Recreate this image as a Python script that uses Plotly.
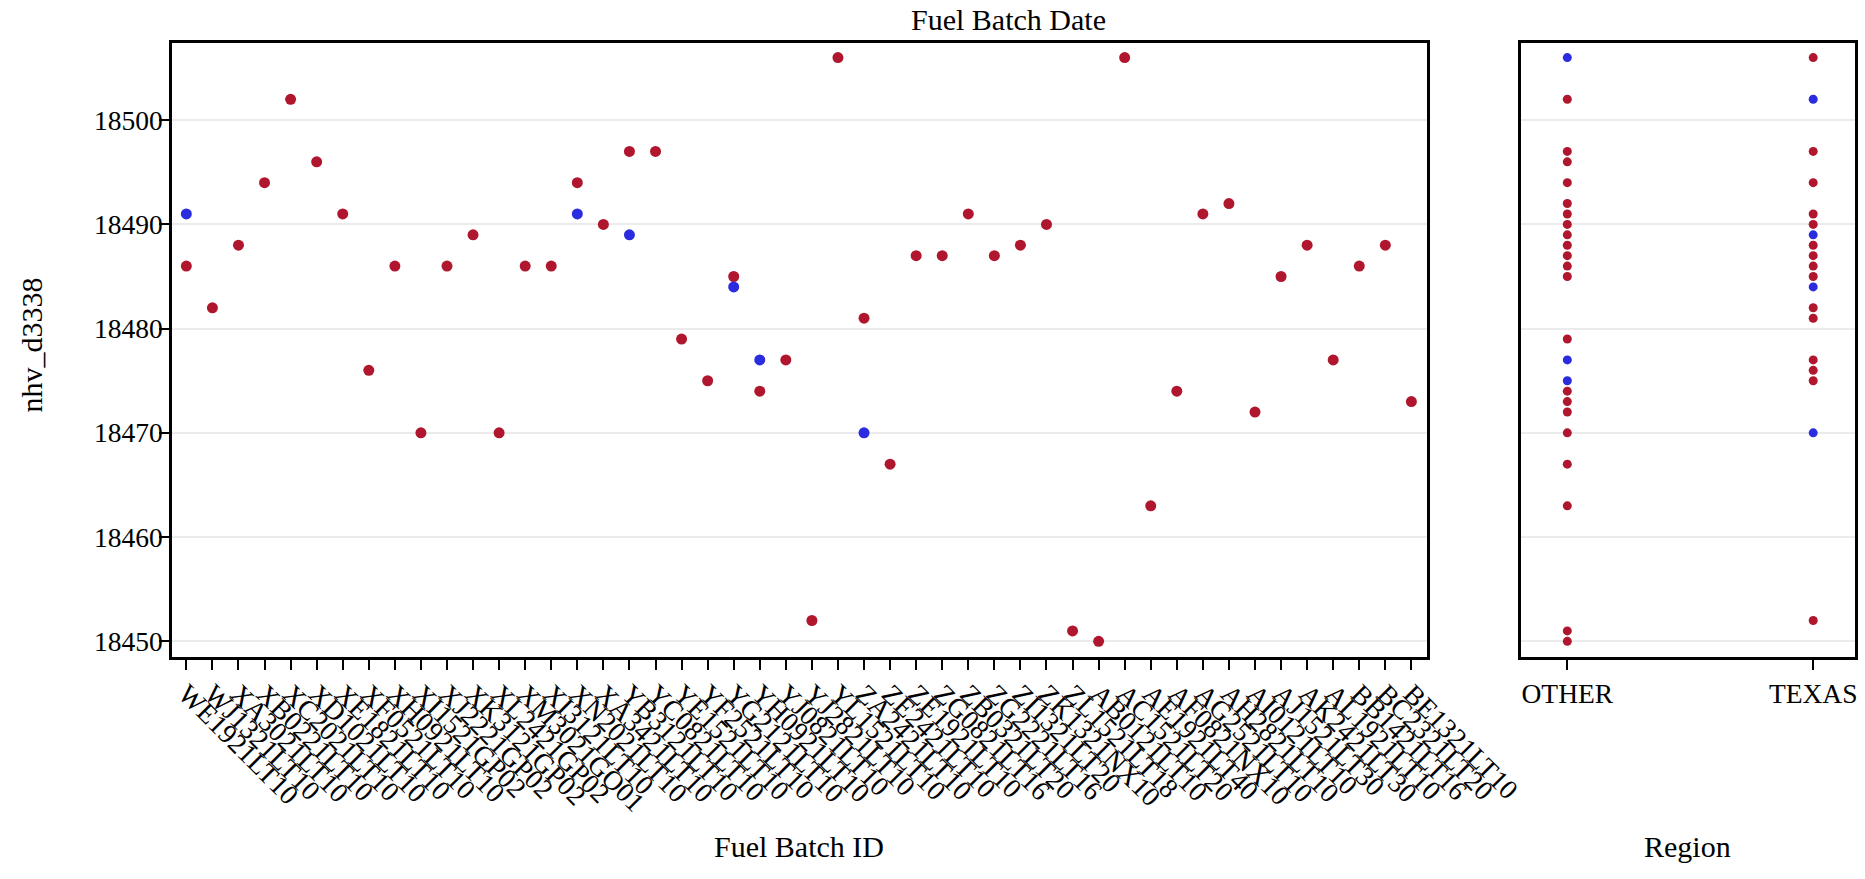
import plotly.graph_objects as go

# ---------------- data ----------------
batch_ids = [
    "WE1921LT10", "WJ1321LT10", "XA3021LT10", "XB0221LT10", "XC2021LT10", "XD1021LT10",
    "XE1821LT10", "XF0521LT10", "XH0921LT10", "XI1521GP02", "XJ2221GP02", "XK3121GP02",
    "XL2421GP02", "XM3021GO01", "XI3121LT10", "XN2021LT10", "XA3421LT10", "YB3121LT10",
    "YC0821LT10", "YE1521LT10", "YF2521LT10", "YG2121LT10", "YH0921LT10", "YJ0821LT10",
    "YJ2821LT10", "YL1521LT10", "ZA2421LT10", "ZE2421LT10", "ZE1921LT10", "ZG0821LT16",
    "ZB0321LT20", "ZG2221LT16", "ZI1321LT20", "ZK1321NX10", "ZL1521LT18", "AB0121LT10",
    "AC1521LT20", "AE1921LT40", "AF0821NX10", "AG2521LT10", "AH2821LT10", "AI0121LT10",
    "AJ1521LT30", "AK2421LT30", "AL1921LT10", "BB1421LT16", "BC2321LT20", "BE1321LT10",
]
nhv_red = [
    18486, 18482, 18488, 18494, 18502, 18496, 18491, 18476, 18486, 18470, 18486, 18489,
    18470, 18486, 18486, 18494, 18490, 18497, 18497, 18479, 18475, 18485, 18474, 18477,
    18452, 18506, 18481, 18467, 18487, 18487, 18491, 18487, 18488, 18490, 18451, 18450,
    18506, 18463, 18474, 18491, 18492, 18472, 18485, 18488, 18477, 18486, 18488, 18473,
]
blue_ids = ["WE1921LT10", "XN2021LT10", "YB3121LT10", "YG2121LT10", "YH0921LT10", "ZA2421LT10"]
nhv_blue = [18491, 18491, 18489, 18484, 18477, 18470]

regions = ["OTHER", "TEXAS"]
other_red = [18502, 18497, 18496, 18494, 18492, 18491, 18490, 18489, 18488, 18487, 18486,
             18485, 18479, 18474, 18473, 18472, 18470, 18467, 18463, 18451, 18450]
other_blue = [18506, 18477, 18475]
texas_red = [18506, 18497, 18494, 18491, 18490, 18488, 18487, 18486, 18485, 18482, 18481,
             18477, 18476, 18475, 18452]
texas_blue = [18502, 18489, 18484, 18470]
y_ticks = [18450, 18460, 18470, 18480, 18490, 18500]

RED = "#B0172E"
BLUE = "#2B2BE0"
FONT = "Liberation Serif"
FS_TICK = 27.5
FS_TITLE = 30

fig = go.Figure()
fig.add_trace(go.Scatter(x=batch_ids, y=nhv_red, mode="markers", xaxis="x", yaxis="y",
                         marker=dict(color=RED, size=11), showlegend=False))
fig.add_trace(go.Scatter(x=blue_ids, y=nhv_blue, mode="markers", xaxis="x", yaxis="y",
                         marker=dict(color=BLUE, size=11), showlegend=False))
fig.add_trace(go.Scatter(x=[regions[0]] * len(other_red) + [regions[1]] * len(texas_red),
                         y=other_red + texas_red, mode="markers", xaxis="x2", yaxis="y2",
                         marker=dict(color=RED, size=9), showlegend=False))
fig.add_trace(go.Scatter(x=[regions[0]] * len(other_blue) + [regions[1]] * len(texas_blue),
                         y=other_blue + texas_blue, mode="markers", xaxis="x2", yaxis="y2",
                         marker=dict(color=BLUE, size=9), showlegend=False))

yrange = [18448.5, 18507.4]
axis_common = dict(showline=True, linecolor="black", linewidth=2.5, mirror=True, automargin=False,
                   tickfont=dict(family=FONT, size=FS_TICK, color="black"), zeroline=False)

fig.update_layout(
    width=1865, height=879, autosize=False,
    margin=dict(l=172, r=10, t=43, b=222, autoexpand=False),
    plot_bgcolor="white", paper_bgcolor="white",
    font=dict(family=FONT, size=FS_TICK, color="black"),
    xaxis=dict(domain=[0, 0.7454], anchor="y", type="category", categoryorder="array",
               categoryarray=batch_ids, tickmode="array", tickvals=batch_ids, ticktext=batch_ids,
               range=[-0.55, 47.58], tickangle=45, ticklabelstandoff=-3,
               ticks="outside", ticklen=10, tickwidth=2, tickcolor="black",
               showgrid=False, **axis_common),
    yaxis=dict(domain=[0, 1], anchor="x", range=yrange, tickmode="array", tickvals=y_ticks,
               ticktext=[str(v) for v in y_ticks], ticklabelstandoff=-9,
               ticks="outside", ticklen=10, tickwidth=2, tickcolor="black",
               showgrid=True, gridcolor="#ebebeb", gridwidth=2, **axis_common),
    xaxis2=dict(domain=[0.8013, 1], anchor="y2", type="category", categoryorder="array",
                categoryarray=regions, tickmode="array", tickvals=regions, ticktext=regions,
                range=[-0.19, 1.17],
                ticks="outside", ticklen=10, tickwidth=2, tickcolor="black",
                showgrid=False, **axis_common),
    yaxis2=dict(domain=[0, 1], anchor="x2", range=yrange, showticklabels=False, ticks="",
                tickmode="array", tickvals=y_ticks,
                showgrid=True, gridcolor="#ebebeb", gridwidth=2, **axis_common),
    annotations=[
        dict(text="Fuel Batch Date", x=0.497, y=1 + (43 - 20) / 614.0, xref="paper", yref="paper",
             showarrow=False, font=dict(family=FONT, size=FS_TITLE), xanchor="center", yanchor="middle"),
        dict(text="Fuel Batch ID", x=0.3727, y=-0.308, xref="paper", yref="paper",
             showarrow=False, font=dict(family=FONT, size=FS_TITLE), xanchor="center", yanchor="middle"),
        dict(text="Region", x=0.9006, y=-0.308, xref="paper", yref="paper",
             showarrow=False, font=dict(family=FONT, size=FS_TITLE), xanchor="center", yanchor="middle"),
        dict(text="nhv_d3338", x=-0.0835, y=0.508, xref="paper", yref="paper", textangle=-90,
             showarrow=False, font=dict(family=FONT, size=FS_TITLE), xanchor="center", yanchor="middle"),
    ],
)

fig.write_html("out.html", config={"displayModeBar": False},
               post_script="document.body.style.margin='0';")
